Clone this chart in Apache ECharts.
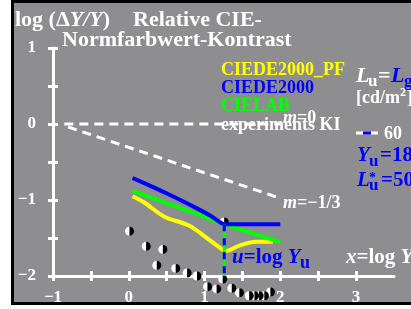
<!DOCTYPE html>
<html><head><meta charset="utf-8">
<script src="https://cdn.jsdelivr.net/npm/echarts@6/dist/echarts.min.js"></script>
<style>html,body{margin:0;padding:0;background:#fff}#c{width:411px;height:309px}</style>
</head><body><div id="c"></div>
<script>
// ---- data ----
const xTickValues = [-1,-0.5,0,0.5,1,1.5,2,2.5,3];
const xLabelValues = [-1,0,1,2,3];
const yTickValues = [-2,-1.5,-1,-0.5,0,0.5,1];
const yLabelValues = [-2,-1,0,1];
const ciede2000PF = [[0.05,-0.95],[0.2,-1.03],[0.47,-1.22],[0.8,-1.34],[1.07,-1.53],[1.22,-1.64],[1.28,-1.67],[1.46,-1.6],[1.68,-1.55],[1.9,-1.55]];
const ciede2000 = [[0.05,-0.71],[0.3,-0.82],[0.6,-0.96],[0.9,-1.11],[1.1,-1.22],[1.26,-1.32],[1.5,-1.32],[2.0,-1.32]];
const cielab = [[0.05,-0.88],[0.5,-1.04],[1.0,-1.22],[1.26,-1.32],[1.6,-1.43],[2.0,-1.55]];
const experimentsKI = [[0.01,-1.41],[0.23,-1.61],[0.45,-1.65],[0.37,-1.86],[0.62,-1.9],[0.77,-1.96],[0.9,-2.0],[1.04,-2.14],[1.16,-2.17],[1.24,-2.04],[1.36,-2.16],[1.46,-2.22],[1.59,-2.26],[1.66,-2.26],[1.72,-2.26],[1.79,-2.26],[1.87,-2.21]];
const refM0 = [[-0.85,0],[2.0,0]];
const refM13 = [[-0.8,-0.04],[1.95,-0.96]];
const uLine = [[1.26,-1.32],[1.26,-2]];
const junction = [[1.26,-1.29]];

const FF = 'Liberation Serif';
const minus = v => v < 0 ? '\u2212' + (-v) : String(v);

function txt(x, y, text, size, color, italic) {
  return {type:'text', x:x, y:y, z:100, silent:true,
    style:{text:text, fill:color, font:(italic?'italic ':'')+'bold '+size+'px "'+FF+'"',
      align:'left', verticalAlign:'middle', textAlign:'left', textVerticalAlign:'middle'}};
}
function rich(x, y, parts, size, color) {
  let s = ''; const r = {};
  parts.forEach((p, i) => {
    s += '{t' + i + '|' + p[0] + '}';
    r['t' + i] = {fill:color, color:color, fontSize:size, fontWeight:'bold', fontFamily:FF, fontStyle:p[1]?'italic':'normal'};
  });
  return {type:'text', x:x, y:y, z:100, silent:true,
    style:{text:s, rich:r, fill:color, font:'bold '+size+'px "'+FF+'"',
      align:'left', verticalAlign:'middle', textAlign:'left', textVerticalAlign:'middle'}};
}

const LEFT_HALF = 'path://M10,0 A10,10 0 0 0 10,20 Z';
const RIGHT_HALF = 'path://M0,0 A10,10 0 0 1 0,20 Z';

const axisCommon = {type:'value', splitLine:{show:false}};
const tickStyle = {color:'#fff', width:3};
const labelStyle = {color:'#fff', fontSize:17, fontWeight:'bold', fontFamily:FF, formatter:minus};

const chart = echarts.init(document.getElementById('c'), null, {renderer:'canvas'});
chart.setOption({
  backgroundColor:'#fff',
  animation:false,
  grid:{left:53, right:17, top:48, bottom:33, containLabel:false},
  xAxis:[
    Object.assign({}, axisCommon, {min:-1, max:3.5, position:'bottom',
      axisLine:{onZero:false, lineStyle:{color:'#fff', width:3}},
      axisTick:{length:5, lineStyle:tickStyle, customValues:xTickValues},
      axisLabel:Object.assign({}, labelStyle, {margin:13, customValues:xLabelValues})}),
    Object.assign({}, axisCommon, {min:-1, max:3.5, position:'bottom',
      axisLine:{show:false, onZero:false},
      axisTick:{inside:true, length:5, lineStyle:tickStyle, customValues:xTickValues},
      axisLabel:{show:false}})
  ],
  yAxis:[
    Object.assign({}, axisCommon, {min:-2, max:1, position:'left',
      axisLine:{onZero:false, lineStyle:{color:'#fff', width:3}},
      axisTick:{length:5, lineStyle:tickStyle, customValues:yTickValues},
      axisLabel:Object.assign({}, labelStyle, {margin:17, customValues:yLabelValues})}),
    Object.assign({}, axisCommon, {min:-2, max:1, position:'left',
      axisLine:{show:false, onZero:false},
      axisTick:{inside:true, length:5, lineStyle:tickStyle, customValues:yTickValues},
      axisLabel:{show:false}})
  ],
  series:[
    {type:'line', data:refM0, symbol:'none', clip:false, lineStyle:{color:'#fff', width:3, type:[9,6]}},
    {type:'line', data:refM13, symbol:'none', clip:false, lineStyle:{color:'#fff', width:3, type:[9,6]}},
    {type:'line', data:ciede2000PF, symbol:'none', clip:false, smooth:0.3, lineStyle:{color:'#ffff00', width:4}},
    {type:'line', data:cielab, symbol:'none', clip:false, lineStyle:{color:'#00ff00', width:4}},
    {type:'line', data:ciede2000, symbol:'none', clip:false, smooth:0.2, lineStyle:{color:'#0000ff', width:4}},
    {type:'line', data:uLine, symbol:'none', clip:false, lineStyle:{color:'#00ff00', width:3}},
    {type:'line', data:uLine, symbol:'none', clip:false, lineStyle:{color:'#0000ff', width:3, type:[7,7]}},
    {type:'scatter', data:experimentsKI.concat(junction), clip:false, symbol:LEFT_HALF, symbolSize:[4.5,9], symbolOffset:[-2.25,0], itemStyle:{color:'#fff', opacity:1}},
    {type:'scatter', data:experimentsKI.concat(junction), clip:false, symbol:RIGHT_HALF, symbolSize:[4.5,9], symbolOffset:[2.25,0], itemStyle:{color:'#000', opacity:1}}
  ],
  graphic:[
    {type:'rect', z:-100, silent:true, shape:{x:12.5, y:1.5, width:410, height:302}, style:{fill:'#8e8e90', stroke:'#000', lineWidth:3}},
    rich(15, 20, [['log (\u0394',0],['Y/Y',1],[')',0]], 22, '#fff'),
    txt(133, 20, 'Relative CIE-', 22, '#fff'),
    txt(62, 40, 'Normfarbwert-Kontrast', 22, '#fff'),
    txt(221, 70, 'CIEDE2000_PF', 18, '#ffff00'),
    txt(221, 88, 'CIEDE2000', 18, '#0000ff'),
    txt(221, 106, 'CIELAB', 18, '#00ff00'),
    txt(221, 125, 'experiments KI', 18, '#fff'),
    rich(283, 118, [['m',1],['=0',0]], 18, '#fff'),
    rich(283, 203, [['m',1],['=\u22121/3',0]], 18, '#fff'),
    txt(356, 76, 'L', 22, '#fff', true),
    txt(368, 82, 'u', 17, '#fff'),
    txt(378, 76, '=', 22, '#fff'),
    txt(391, 76, 'L', 22, '#0000ff', true),
    txt(404, 82, 'g', 17, '#0000ff'),
    txt(356, 98, '[cd/m', 18, '#fff'),
    txt(400, 93, '2', 12, '#fff'),
    txt(407, 98, ']', 18, '#fff'),
    {type:'line', z:100, silent:true, shape:{x1:356, y1:133, x2:378, y2:133}, style:{stroke:'#fff', lineWidth:3}},
    {type:'line', z:101, silent:true, shape:{x1:363, y1:133, x2:371, y2:133}, style:{stroke:'#0000ff', lineWidth:3}},
    txt(384, 134, '60', 18, '#fff'),
    txt(357, 156, 'Y', 21, '#0000ff', true),
    txt(369, 162, 'u', 17, '#0000ff'),
    txt(380, 156, '=18', 21, '#0000ff'),
    txt(357, 181, 'L', 21, '#0000ff', true),
    txt(369, 178, '*', 14, '#0000ff'),
    txt(369, 186, 'u', 17, '#0000ff'),
    txt(381, 181, '=50', 21, '#0000ff'),
    rich(232, 258, [['u',1],['=log ',0],['Y',1]], 21, '#0000ff'),
    txt(300, 263, 'u', 18, '#0000ff'),
    rich(346, 258, [['x',1],['=log ',0],['Y',1]], 21, '#fff')
  ]
});
</script></body></html>
